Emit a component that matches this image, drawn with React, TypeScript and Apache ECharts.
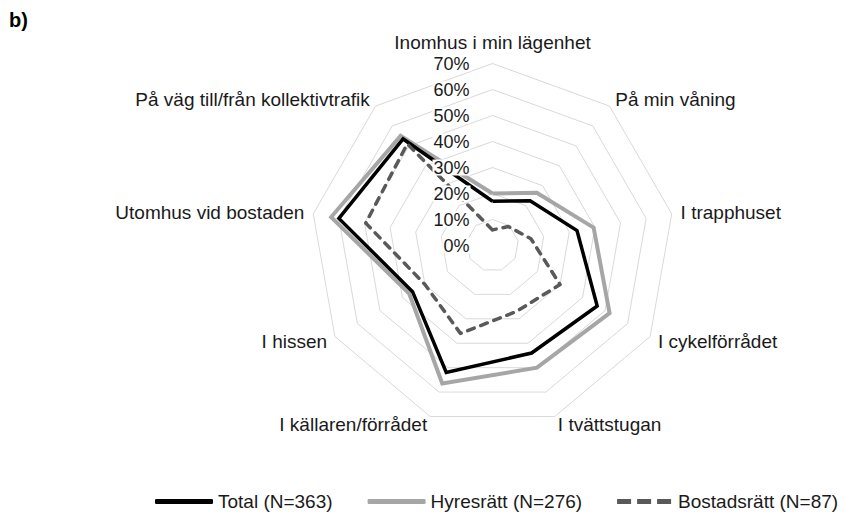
import React, { useEffect, useRef } from 'react';
import * as echarts from 'echarts';

// Indicators in the reference's clockwise order, starting at the top
const categories = [
  'Inomhus i min lägenhet',
  'På min våning',
  'I trapphuset',
  'I cykelförrådet',
  'I tvättstugan',
  'I källaren/förrådet',
  'I hissen',
  'Utomhus vid bostaden',
  'På väg till/från kollektivtrafik',
];
const totalValues = [17, 22.5, 33, 46.5, 44, 52, 35.5, 60, 53.5];
const hyresValues = [20, 26.5, 39.5, 52, 50, 56.5, 37, 63, 55];
const bostadsValues = [6, 9.5, 15, 30, 27, 36, 30, 49.5, 51];
const seriesNames = ['Total (N=363)', 'Hyresrätt (N=276)', 'Bostadsrätt (N=87)'];
const axisMin = 0;
const axisMax = 70;
const axisSplits = 7;

// ECharts places radar indicators counter-clockwise; reorder so the picture runs clockwise
const ccw = <T,>(arr: T[]): T[] => [arr[0], ...arr.slice(1).reverse()];

const FONT = "'Liberation Sans', Arial, sans-serif";
const TEXT = '#1a1a1a';

export default function App() {
  const ref = useRef<HTMLDivElement>(null);

  useEffect(() => {
    if (!ref.current) return;
    const chart = echarts.init(ref.current, undefined, { renderer: 'svg' });
    const names = ccw(categories);
    const baseIndicator = names.map((name, i) => ({
      name,
      min: axisMin,
      max: axisMax,
      nameGap: i === 0 ? 12 : 9,
    }));
    const labelIndicator = names.map((name, i) => ({
      name,
      min: axisMin,
      max: axisMax,
      axisLabel: i === 0
        ? {
            show: true,
            formatter: '{value}%',
            fontSize: 18,
            lineHeight: 16,
            color: TEXT,
            fontFamily: FONT,
            margin: 22,
            backgroundColor: '#ffffff',
            padding: [0, 1],
          }
        : { show: false },
    }));
    const center = [492.5, 245.5];
    const radius = 182;

    chart.setOption({
      animation: false,
      textStyle: { fontFamily: FONT },
      title: {
        text: 'b)',
        left: 9,
        top: 10,
        padding: 0,
        textStyle: { fontSize: 20, fontWeight: 'bold', color: '#000', fontFamily: FONT },
      },
      legend: {
        left: 150,
        top: 487,
        itemWidth: 58,
        itemHeight: 5,
        itemGap: 35,
        selectedMode: false,
        textStyle: { fontSize: 19, color: TEXT, fontFamily: FONT },
        itemStyle: { borderWidth: 0 },
        data: [
          { name: seriesNames[0], icon: 'roundRect' },
          { name: seriesNames[1], icon: 'roundRect' },
          { name: seriesNames[2], icon: 'path://M0,0H14V5H0Z M20,0H34V5H20Z M40,0H54V5H40Z' },
        ],
      },
      radar: [
        {
          indicator: baseIndicator,
          center,
          radius,
          startAngle: 90,
          splitNumber: axisSplits,
          shape: 'polygon',
          nameGap: 9,
          axisName: { color: TEXT, fontSize: 19, lineHeight: 19, fontFamily: FONT },
          splitLine: { lineStyle: { color: '#d9d9d9', width: 1 } },
          splitArea: { show: false },
          axisLine: { show: false },
          axisTick: { show: false },
          axisLabel: { show: false },
          z: 0,
        },
        {
          indicator: labelIndicator,
          center,
          radius,
          startAngle: 90,
          splitNumber: axisSplits,
          shape: 'polygon',
          axisName: { show: false },
          splitLine: { show: false },
          splitArea: { show: false },
          axisLine: { show: false },
          axisTick: { show: false },
          axisLabel: { show: false },
          z: 5,
        },
      ],
      series: [
        {
          type: 'radar',
          radarIndex: 0,
          symbol: 'none',
          z: 2,
          data: [
            {
              name: seriesNames[1],
              value: ccw(hyresValues),
              itemStyle: { color: '#a6a6a6' },
              lineStyle: { color: '#a6a6a6', width: 4, join: 'miter' },
            },
            {
              name: seriesNames[0],
              value: ccw(totalValues),
              itemStyle: { color: '#000000' },
              lineStyle: { color: '#000000', width: 3.5, join: 'miter' },
            },
            {
              name: seriesNames[2],
              value: ccw(bostadsValues),
              itemStyle: { color: '#595959' },
              lineStyle: { color: '#595959', width: 3.5, type: [7, 7], cap: 'round', join: 'round' },
            },
          ],
        },
      ],
    });
    return () => chart.dispose();
  }, []);

  return (
    <div
      ref={ref}
      style={{ position: 'fixed', left: 0, top: 0, width: 845, height: 519, background: '#fff' }}
    />
  );
}
